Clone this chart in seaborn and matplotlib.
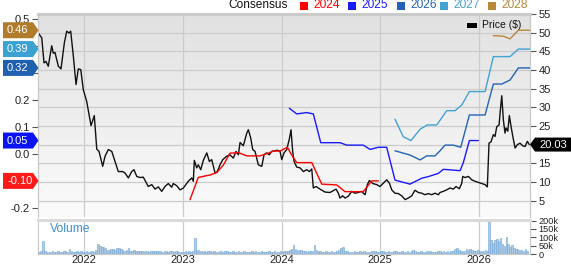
import numpy as np
import pandas as pd
import matplotlib
matplotlib.use("Agg")
import matplotlib.pyplot as plt
import matplotlib.transforms as mtransforms
import seaborn as sns
from matplotlib.patches import Polygon, Rectangle
from matplotlib.colors import LinearSegmentedColormap

sns.set_theme(style="white")
plt.rcParams['font.family'] = ['Liberation Sans', 'DejaVu Sans']

# ---------------- data ----------------
price_t = [2021.537, 2021.572, 2021.595, 2021.615, 2021.638, 2021.673, 2021.689, 2021.706, 2021.740, 2021.767,
           2021.801, 2021.825, 2021.848, 2021.865, 2021.892, 2021.919, 2021.942, 2021.967, 2021.993, 2022.027,
           2022.071, 2022.104, 2022.129, 2022.152, 2022.189, 2022.213, 2022.246, 2022.281, 2022.314, 2022.347,
           2022.392, 2022.415, 2022.449, 2022.483, 2022.506, 2022.534, 2022.567, 2022.600, 2022.651, 2022.686,
           2022.719, 2022.752, 2022.787, 2022.820, 2022.854, 2022.888, 2022.904, 2022.939, 2022.972, 2023.006,
           2023.056, 2023.091, 2023.107, 2023.117, 2023.141, 2023.157, 2023.182, 2023.208, 2023.243, 2023.269,
           2023.293, 2023.327, 2023.350, 2023.377, 2023.405, 2023.445, 2023.478, 2023.512, 2023.539, 2023.563,
           2023.580, 2023.613, 2023.648, 2023.664, 2023.688, 2023.708, 2023.732, 2023.765, 2023.800, 2023.823,
           2023.850, 2023.876, 2023.901, 2023.934, 2023.958, 2023.985, 2024.002, 2024.025, 2024.053, 2024.079,
           2024.096, 2024.113, 2024.127, 2024.154, 2024.187, 2024.221, 2024.255, 2024.282, 2024.306, 2024.322,
           2024.349, 2024.390, 2024.441, 2024.491, 2024.525, 2024.552, 2024.575, 2024.592, 2024.620, 2024.643,
           2024.676, 2024.711, 2024.744, 2024.778, 2024.812, 2024.828, 2024.846, 2024.869, 2024.889, 2024.924,
           2024.964, 2024.997, 2025.031, 2025.065, 2025.092, 2025.116, 2025.149, 2025.183, 2025.217, 2025.251,
           2025.284, 2025.318, 2025.352, 2025.385, 2025.420, 2025.453, 2025.487, 2025.521, 2025.554, 2025.588,
           2025.605, 2025.638, 2025.673, 2025.706, 2025.740, 2025.767, 2025.801, 2025.825, 2025.835, 2025.858,
           2025.892, 2025.926, 2025.959, 2025.993, 2026.027, 2026.061, 2026.084, 2026.101, 2026.122, 2026.145,
           2026.162, 2026.179, 2026.203, 2026.213, 2026.230, 2026.246, 2026.263, 2026.273, 2026.291, 2026.307,
           2026.324, 2026.342, 2026.365, 2026.388, 2026.415, 2026.443, 2026.466, 2026.489, 2026.509]
price_v = [49.9, 48.6, 41.9, 42.3, 41.0, 46.5, 44.5, 44.7, 41.0, 40.3,
           47.3, 50.4, 49.9, 50.4, 43.7, 36.1, 40.3, 40.1, 34.7, 31.6,
           25.1, 27.8, 18.8, 18.2, 14.2, 16.9, 18.7, 18.2, 15.5, 12.8,
           12.8, 12.4, 11.1, 12.8, 13.3, 11.5, 11.2, 11.3, 8.8, 9.3,
           8.1, 8.7, 7.5, 8.8, 9.6, 8.6, 9.6, 9.0, 7.9, 8.4,
           10.2, 11.1, 10.2, 15.8, 13.8, 14.6, 13.3, 15.8, 17.8, 15.5,
           16.0, 12.4, 12.8, 14.6, 16.0, 16.9, 17.3, 16.4, 18.2, 17.3,
           20.6, 19.7, 23.1, 24.0, 21.8, 18.7, 18.2, 14.6, 14.2, 17.3,
           17.8, 17.3, 18.2, 18.4, 18.5, 18.2, 16.0, 17.8, 18.7, 21.5,
           24.0, 18.2, 15.5, 14.0, 13.8, 12.8, 13.3, 12.8, 13.5, 8.4,
           8.8, 8.1, 7.3, 7.2, 7.7, 8.1, 7.0, 5.7, 6.3, 5.7,
           6.2, 7.5, 7.0, 7.2, 7.5, 7.0, 6.6, 9.3, 10.4, 9.6,
           9.3, 8.8, 9.7, 10.6, 9.7, 7.9, 7.0, 6.9, 6.3, 5.3,
           5.7, 6.3, 7.8, 7.2, 7.0, 6.6, 6.9, 6.6, 7.0, 6.6,
           7.2, 7.5, 7.9, 8.4, 8.1, 8.8, 8.2, 9.7, 11.5, 11.2,
           11.5, 10.6, 10.2, 9.9, 9.6, 9.3, 8.7, 20.4, 20.8, 22.7,
           22.2, 24.8, 25.3, 28.5, 33.1, 26.7, 23.1, 24.5, 23.6, 27.8,
           24.9, 22.2, 19.1, 20.0, 20.4, 19.7, 19.5, 20.9, 20.03]

eps2024_t = [2023.073, 2023.157, 2023.276, 2023.344, 2023.411, 2023.478, 2023.563, 2023.648, 2023.782, 2023.866,
             2023.917, 2023.985, 2024.059, 2024.103, 2024.154, 2024.306, 2024.407, 2024.559, 2024.643, 2024.828,
             2024.913, 2024.980]
eps2024_v = [-0.17, -0.087, -0.078, -0.069, -0.041, 0.003, 0.005, -0.007, -0.007, 0.003,
             0.011, 0.011, 0.025, -0.004, -0.032, -0.032, -0.112, -0.115, -0.14, -0.14,
             -0.10, -0.10]
eps2025_t = [2024.079, 2024.154, 2024.255, 2024.322, 2024.397, 2024.592, 2024.660, 2024.828, 2024.896, 2024.980,
             2025.065, 2025.149, 2025.301, 2025.420, 2025.487, 2025.588, 2025.638, 2025.808, 2025.841, 2025.902,
             2025.993]
eps2025_v = [0.17, 0.149, 0.154, 0.149, 0.042, 0.042, 0.033, 0.033, 0.017, 0.025,
             0.025, -0.097, -0.112, -0.09, -0.084, -0.072, -0.057, -0.062, -0.032, 0.05,
             0.05]
eps2026_t = [2025.149, 2025.301, 2025.403, 2025.470, 2025.554, 2025.605, 2025.656, 2025.740, 2025.815, 2025.902,
             2026.061, 2026.145, 2026.230, 2026.314, 2026.398, 2026.516]
eps2026_v = [0.012, -0.004, -0.022, -0.007, -0.007, 0.012, 0.033, 0.033, 0.025, 0.145,
             0.145, 0.26, 0.26, 0.275, 0.32, 0.32]
eps2027_t = [2025.149, 2025.233, 2025.311, 2025.403, 2025.476, 2025.572, 2025.673, 2025.757, 2025.825, 2025.902,
             2026.061, 2026.145, 2026.314, 2026.398, 2026.516]
eps2027_v = [0.129, 0.064, 0.05, 0.092, 0.108, 0.108, 0.161, 0.161, 0.182, 0.232,
             0.232, 0.362, 0.362, 0.39, 0.39]
eps2028_t = [2026.145, 2026.246, 2026.314, 2026.398, 2026.516]
eps2028_v = [0.44, 0.438, 0.428, 0.46, 0.46]

# weekly volume (thousands of shares), starting mid-July 2021
vol_start = 2021.545
volume_k = [
    14, 16, 76, 18, 14, 12, 13, 15, 12, 14, 16, 13, 12, 15, 18, 14, 29, 16, 12, 14, 15, 13, 16, 12,
    14, 16, 13, 18, 15, 14, 22, 58, 48, 44, 40, 36, 22, 25, 28, 30, 24, 33, 35, 28, 22, 20, 24, 35, 20, 18,
    22, 16, 20, 18, 15, 17, 20, 16, 14, 18, 15, 17, 20, 16, 15, 14, 18, 16, 14, 15, 16, 14, 20, 15, 14, 13,
    13, 15, 14, 16, 12, 18, 96, 22, 24, 20, 18, 16, 14, 18, 15, 14, 17, 13, 12, 15, 16, 14, 18, 15, 13, 12,
    16, 14, 13, 15, 12, 14, 16, 13, 12, 14, 15, 13, 16, 14, 12, 15, 13, 14, 12, 16, 13, 14, 15, 12, 14, 16,
    14, 16, 18, 20, 22, 28, 53, 28, 26, 24, 22, 18, 16, 14, 15, 18, 20, 53, 22, 18, 16, 14, 12, 15, 13, 14,
    16, 12, 14, 16, 22, 33, 40, 18, 15, 14, 12, 13, 16, 14, 12, 15, 14, 16, 13, 12, 14, 15, 18, 16, 14, 13,
    15, 18, 14, 12, 16, 14, 13, 15, 18, 14, 12, 16, 14, 13, 15, 12, 20, 24, 16, 14, 13, 15, 12, 14, 16, 18,
    15, 13, 14, 12, 16, 18, 14, 15, 13, 16, 14, 18, 20, 30, 33, 22, 18, 16, 20, 30, 24, 28, 22, 18, 16, 24,
    20, 16, 18, 22, 18, 194, 86, 63, 82, 88, 80, 96, 60, 45, 102, 62, 40, 53, 36, 30, 28, 22, 25, 18, 28, 15]

year_ticks = [2022, 2023, 2024, 2025, 2026]
price_ticks = [5, 10, 15, 20, 25, 30, 35, 40, 45, 50, 55]
eps_ticks = [-0.2, -0.1, 0.0, 0.1, 0.2, 0.3, 0.4, 0.5]
vol_ticks = [0, 50, 100, 150, 200]
vol_labels = ["0", "50k", "100k", "150k", "200k"]
last_price = 20.03

series = [("2024", eps2024_t, eps2024_v, "#ff0000", "#ff1a1a"),
          ("2025", eps2025_t, eps2025_v, "#1a1aff", "#0a14f0"),
          ("2026", eps2026_t, eps2026_v, "#2463b3", "#1f60b0"),
          ("2027", eps2027_t, eps2027_v, "#42a3d3", "#3ba1d1"),
          ("2028", eps2028_t, eps2028_v, "#b8873a", "#b07c2c")]

# ---------------- layout ----------------
W, H = 571, 264
fig = plt.figure(figsize=(W / 100, H / 100), dpi=100)
fig.patch.set_facecolor("white")

def fxp(px):
    return px / W

def fyp(py):
    return 1 - py / H

L, R, T, B = 38, 530, 14, 217
VT, VB = 219.5, 254
ax = fig.add_axes([fxp(L), fyp(B), (R - L) / W, (B - T) / H])
axv = fig.add_axes([fxp(L), fyp(VB), (R - L) / W, (VB - VT) / H])
ax_e = ax.twinx()

xlim = (2021.534, 2026.516)
grid_c = "#cccccc"

# background gradient
cmap = LinearSegmentedColormap.from_list("bg", ["#e1e1e1", "#fbfbfb"])
ax.imshow(np.linspace(0, 1, 256).reshape(-1, 1), cmap=cmap, extent=[0, 1, 0, 1],
          transform=ax.transAxes, aspect="auto", zorder=0, interpolation="bilinear")

# price line
sns.lineplot(x=price_t, y=price_v, ax=ax, color="#111111", lw=1.0, sort=False,
             estimator=None, zorder=5)
ax.set_xlim(*xlim)
ax.set_ylim(0.63, 55)
ax.set_yticks(price_ticks)
# the 20 label sits under the last-price tag in the reference
ax.set_yticklabels(["" if p == 20 else str(p) for p in price_ticks])
ax.set_xticks(year_ticks)
ax.grid(True, color=grid_c, lw=0.9)
ax.set_axisbelow(True)
ax.yaxis.tick_right()
ax.tick_params(axis="y", which="both", right=True, left=False, length=4, width=0.8,
               color="#555555", labelsize=8, pad=2, labelcolor="#222222")
ax.tick_params(axis="x", bottom=False, labelbottom=False)
ax.set_xlabel("")
ax.set_ylabel("")

# EPS consensus lines
for name, t, v, c, _ in series:
    sns.lineplot(x=t, y=v, ax=ax_e, color=c, lw=1.0, sort=False, estimator=None, zorder=4)
ax_e.set_xlim(*xlim)
ax_e.set_ylim(-0.2342, 0.5204)
ax_e.set_yticks(eps_ticks)
hidden = {-0.1, 0.3, 0.4}   # covered by the value tags in the reference
ax_e.set_yticklabels(["" if round(v, 1) in hidden else f"{v:.1f}" for v in eps_ticks])
ax_e.yaxis.tick_left()
ax_e.tick_params(axis="y", left=True, right=False, length=4, width=0.8, color="#555555",
                 labelsize=8, pad=2, labelcolor="#222222")
ax_e.set_ylabel("")

for a in (ax, ax_e):
    for s in a.spines.values():
        s.set_color("#c8c8c8")
        s.set_linewidth(0.8)
ax.spines["top"].set_linewidth(2.2)
ax.spines["top"].set_color("#cdcdcd")
ax.spines["bottom"].set_visible(False)
ax_e.spines["bottom"].set_visible(False)

# volume
vol_x = vol_start + np.arange(len(volume_k)) / 52.0
sns.barplot(x=vol_x, y=volume_k, ax=axv, native_scale=True, color="#a9c9e8",
            edgecolor="#6fa6d8", linewidth=0.4, width=0.8, zorder=3)
axv.set_xlim(*xlim)
axv.set_ylim(0, 206)
axv.set_facecolor("white")
axv.set_xticks(year_ticks)
axv.set_xticklabels([])
axv.grid(True, axis="x", color=grid_c, lw=0.9)
axv.set_axisbelow(True)
axv.set_yticks(vol_ticks)
axv.set_yticklabels(vol_labels)
axv.yaxis.tick_right()
axv.tick_params(axis="y", right=True, left=False, length=4, width=0.8, color="#555555",
                labelsize=6.6, pad=2, labelcolor="#222222")
axv.tick_params(axis="x", bottom=False, labelbottom=False)
axv.set_xlabel("")
axv.set_ylabel("")
for s in axv.spines.values():
    s.set_color("#c8c8c8")
    s.set_linewidth(0.8)
axv.spines["top"].set_linewidth(2.2)
axv.spines["top"].set_color("#dadada")
axv.text(0.025, 0.72, "Volume", transform=axv.transAxes, color="#3f8fd2",
         fontsize=8.7, ha="left", va="center")

# year labels below the volume panel
year_tr = mtransforms.blended_transform_factory(axv.transData, fig.transFigure)
for y in year_ticks:
    axv.text(y, fyp(263.3), str(y), transform=year_tr, ha="center", va="baseline",
             fontsize=8, color="#222222", clip_on=False)

# ---------------- tags ----------------
def data_to_fig_y(a, val):
    disp = a.transData.transform((xlim[0], val))
    return disp[1] / H

for name, t, v, c, tagc in series:
    yc = data_to_fig_y(ax_e, v[-1]) * H
    hh = 8.0
    pts = [(3, yc - hh), (33, yc - hh), (38.5, yc), (33, yc + hh), (3, yc + hh)]
    poly = Polygon([(x / W, y / H) for x, y in pts], closed=True, transform=fig.transFigure,
                   facecolor=tagc, edgecolor="none", zorder=20)
    fig.patches.append(poly)
    fig.text(7 / W, yc / H, f"{v[-1]:.2f}", color="white", fontsize=8, ha="left", va="center",
             zorder=21)

yc = data_to_fig_y(ax, last_price) * H
hh = 7.0
pts = [(530, yc), (535, yc - hh), (571, yc - hh), (571, yc + hh), (535, yc + hh)]
fig.patches.append(Polygon([(x / W, y / H) for x, y in pts], closed=True, transform=fig.transFigure,
                           facecolor="#000000", edgecolor="none", zorder=20))
fig.text(553 / W, yc / H, f"{last_price:.2f}", color="white", fontsize=8, ha="center", va="center",
         zorder=21)

# ---------------- legends ----------------
fig.text(228 / W, fyp(5.5), "Consensus", fontsize=8.6, color="#111111", ha="left", va="center")
leg_items = [(300, "2024", "#ff0000"), (347.5, "2025", "#1a1aff"), (397, "2026", "#2463b3"),
             (440, "2027", "#42a3d3"), (488, "2028", "#b8873a")]
for x0, lab, c in leg_items:
    fig.patches.append(Rectangle((x0 / W, fyp(9.5)), 8 / W, 8 / H, transform=fig.transFigure,
                                 facecolor=c, edgecolor="none"))
    fig.text((x0 + 13.5) / W, fyp(5.5), lab, fontsize=8.6, color=c, ha="left", va="center")

fig.patches.append(Rectangle((466.5 / W, fyp(28)), 10 / W, 5 / H, transform=fig.transFigure,
                             facecolor="#000000", edgecolor="none", zorder=20))
fig.text(482.5 / W, fyp(25.5), "Price ($)", fontsize=7.5, color="#111111", ha="left", va="center",
         zorder=20)

fig.savefig("out.png", dpi=100, facecolor="white")
